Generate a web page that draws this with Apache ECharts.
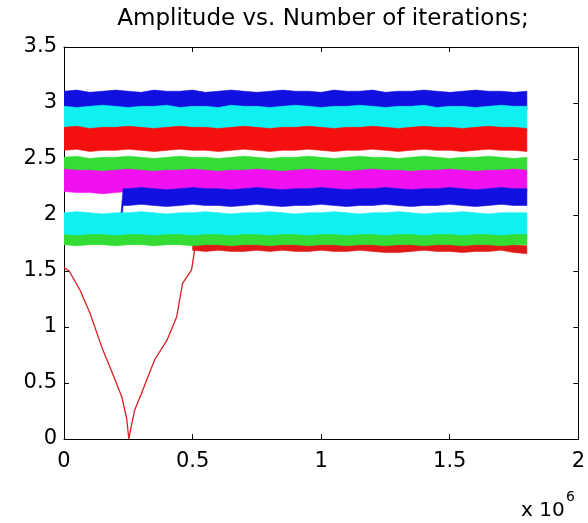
<!DOCTYPE html>
<html>
<head>
<meta charset="utf-8">
<script src="https://cdn.jsdelivr.net/npm/echarts@6/dist/echarts.min.js"></script>
<style>
html,body{margin:0;padding:0;background:#fff;}
#chart{width:588px;height:523px;}
</style>
</head>
<body>
<div id="chart"></div>
<script>
// x values in units of 10^6 iterations
const iters = [0,0.05,0.1,0.15,0.2,0.25,0.3,0.35,0.4,0.45,0.5,0.55,0.6,0.65,0.7,0.75,0.8,0.85,0.9,0.95,1,1.05,1.1,1.15,1.2,1.25,1.3,1.35,1.4,1.45,1.5,1.55,1.6,1.65,1.7,1.75,1.8];

// centre amplitude of each noisy trace
const blueTop  = [3.02,3.03,3.01,3.02,3.03,3.02,3.01,3.03,3.02,3.02,3.03,3.01,3.02,3.03,3.02,3.01,3.02,3.03,3.02,3.02,3.01,3.03,3.02,3.02,3.03,3.01,3.02,3.02,3.03,3.02,3.01,3.02,3.03,3.02,3.02,3.01,3.02];
const cyanTop  = [2.86,2.85,2.86,2.87,2.86,2.85,2.86,2.86,2.87,2.85,2.86,2.86,2.85,2.87,2.86,2.86,2.85,2.86,2.87,2.86,2.85,2.86,2.86,2.87,2.86,2.85,2.86,2.86,2.87,2.85,2.86,2.86,2.85,2.86,2.87,2.86,2.86];
const redTop   = [2.68,2.69,2.67,2.68,2.68,2.69,2.68,2.67,2.68,2.69,2.68,2.68,2.67,2.68,2.69,2.68,2.67,2.68,2.68,2.69,2.68,2.67,2.68,2.68,2.69,2.68,2.67,2.68,2.69,2.68,2.68,2.67,2.68,2.69,2.68,2.68,2.67];
const greenTop = [2.44,2.45,2.43,2.44,2.44,2.45,2.44,2.43,2.44,2.45,2.44,2.44,2.43,2.44,2.45,2.44,2.43,2.44,2.44,2.45,2.44,2.43,2.44,2.45,2.44,2.44,2.43,2.44,2.45,2.44,2.43,2.44,2.44,2.45,2.44,2.43,2.44];
const magenta  = [2.31,2.30,2.30,2.29,2.30,2.31,2.30,2.29,2.30,2.30,2.31,2.30,2.29,2.30,2.30,2.31,2.30,2.29,2.30,2.31,2.30,2.30,2.29,2.30,2.31,2.30,2.30,2.29,2.30,2.30,2.31,2.30,2.29,2.30,2.30,2.31,2.30];

const blueLowIters = [0,0.05,0.1,0.15,0.2,0.222,0.23,0.25,0.3,0.35,0.4,0.45,0.5,0.55,0.6,0.65,0.7,0.75,0.8,0.85,0.9,0.95,1,1.05,1.1,1.15,1.2,1.25,1.3,1.35,1.4,1.45,1.5,1.55,1.6,1.65,1.7,1.75,1.8];
const blueLow      = [1.88,1.88,1.89,1.88,1.88,1.95,2.16,2.16,2.17,2.16,2.15,2.16,2.17,2.16,2.16,2.15,2.16,2.17,2.16,2.15,2.16,2.16,2.17,2.16,2.15,2.16,2.16,2.17,2.16,2.15,2.16,2.16,2.17,2.16,2.15,2.16,2.17,2.16,2.16];

const cyanLow  = [1.90,1.91,1.90,1.89,1.90,1.90,1.91,1.90,1.89,1.90,1.90,1.91,1.90,1.89,1.90,1.90,1.91,1.90,1.89,1.90,1.90,1.91,1.90,1.89,1.90,1.90,1.91,1.90,1.89,1.90,1.90,1.91,1.90,1.89,1.90,1.90,1.90];
const greenLow = [1.78,1.77,1.78,1.78,1.77,1.78,1.78,1.77,1.78,1.78,1.77,1.78,1.78,1.77,1.78,1.78,1.77,1.78,1.78,1.77,1.78,1.78,1.77,1.78,1.78,1.77,1.78,1.78,1.77,1.78,1.78,1.77,1.78,1.78,1.77,1.78,1.78];

const redLowIters = [0.5,0.55,0.6,0.65,0.7,0.75,0.8,0.85,0.9,0.95,1,1.05,1.1,1.15,1.2,1.25,1.3,1.35,1.4,1.45,1.5,1.55,1.6,1.65,1.7,1.75,1.8];
const redLow      = [1.72,1.71,1.72,1.71,1.71,1.72,1.71,1.72,1.71,1.71,1.72,1.71,1.71,1.72,1.71,1.70,1.70,1.71,1.72,1.71,1.71,1.70,1.71,1.71,1.72,1.70,1.69];

// peak-to-peak noise spread of each trace (same order as the band list below)
const noiseSpread = [0.17, 0.22, 0.205, 0.15, 0.2, 0.15, 0.24, 0.07, 0.09];

// red transient trace (amplitude descending to zero and recovering)
const redTraceIters = [0,0.02,0.062,0.1,0.147,0.186,0.225,0.244,0.252,0.262,0.275,0.3,0.322,0.353,0.4,0.438,0.461,0.496,0.508];
const redTrace      = [1.53,1.50,1.33,1.13,0.82,0.60,0.375,0.18,0.0,0.12,0.26,0.40,0.53,0.71,0.88,1.09,1.39,1.51,1.69];

const xTicks = [0,0.5,1,1.5,2];
const yTicks = [0,0.5,1,1.5,2,2.5,3,3.5];

const FONT = 'DejaVu Sans';

// each noisy trace is drawn as a filled envelope (centre ± spread/2) mapped through the axes
function noiseBand(name, xs, centers, spread, color){
  return {
    name, type:'custom', silent:true, animation:false, clip:true,
    itemStyle:{borderWidth:0, borderColor:color},
    data: xs.map((x,i)=>[x, centers[i]]),
    encode:{x:0, y:1},
    renderItem: function(params, api){
      if (params.dataIndex !== 0) return null;
      const upper = xs.map((x,i)=>api.coord([x, centers[i] + spread/2]));
      const lower = xs.map((x,i)=>api.coord([x, centers[i] - spread/2])).reverse();
      return {type:'polygon', shape:{points: upper.concat(lower)},
              style:{fill:color, stroke:color, lineWidth:0.6, shadowBlur:0, opacity:1}};
    }
  };
}

const chart = echarts.init(document.getElementById('chart'), null, {renderer:'canvas'});
function axisCommon(){
  return {
    axisLine:{show:true, onZero:false, lineStyle:{color:'#000', width:1}},
    axisTick:{show:true, inside:true, length:5, lineStyle:{color:'#000'}},
    splitLine:{show:false}
  };
}
const series = [
  noiseBand('blueTop', iters, blueTop, noiseSpread[0], '#1010e0'),
  noiseBand('cyanTop', iters, cyanTop, noiseSpread[1], '#10f0f0'),
  noiseBand('redTop', iters, redTop, noiseSpread[2], '#f51010'),
  noiseBand('greenTop', iters, greenTop, noiseSpread[3], '#33dd33'),
  noiseBand('magenta', iters, magenta, noiseSpread[4], '#f010f0'),
  noiseBand('blueLow', blueLowIters, blueLow, noiseSpread[5], '#1010e0'),
  noiseBand('cyanLow', iters, cyanLow, noiseSpread[6], '#10f0f0'),
  noiseBand('redLow', redLowIters, redLow, noiseSpread[7], '#e01818'),
  {name:'redTrace', type:'line', data:redTraceIters.map((x,i)=>[x, redTrace[i]]), symbol:'none', showSymbol:false,
    lineStyle:{color:'#d82020', width:1.3}, silent:true, animation:false},
  noiseBand('greenLow', iters, greenLow, noiseSpread[8], '#33dd33')
];

chart.setOption({
  animation:false,
  backgroundColor:'#fff',
  grid:{left:64, right:8, top:47, bottom:84, containLabel:false, show:false},
  xAxis:[
    Object.assign({type:'value', min:xTicks[0], max:xTicks[xTicks.length-1], interval:0.5, position:'bottom',
      axisLabel:{color:'#000', fontFamily:FONT, fontSize:21, margin:12}}, axisCommon()),
    Object.assign({type:'value', min:xTicks[0], max:xTicks[xTicks.length-1], interval:0.5, position:'top',
      axisLabel:{show:false}}, axisCommon())
  ],
  yAxis:[
    Object.assign({type:'value', min:yTicks[0], max:yTicks[yTicks.length-1], interval:0.5, position:'left',
      axisLabel:{color:'#000', fontFamily:FONT, fontSize:21, margin:7}}, axisCommon()),
    Object.assign({type:'value', min:yTicks[0], max:yTicks[yTicks.length-1], interval:0.5, position:'right',
      axisLabel:{show:false}}, axisCommon())
  ],
  graphic:[
    {type:'text', x:323, y:19, style:{text:'Amplitude vs. Number of iterations;', textAlign:'center', textVerticalAlign:'middle', fill:'#000', font:'23px "DejaVu Sans"'}},
    {type:'text', x:521, y:511, style:{text:'x 10', textAlign:'left', textVerticalAlign:'middle', fill:'#000', font:'20px "DejaVu Sans"'}},
    {type:'text', x:566, y:497, style:{text:'6', textAlign:'left', textVerticalAlign:'middle', fill:'#000', font:'14px "DejaVu Sans"'}}
  ],
  series: series
});
</script>
</body>
</html>
